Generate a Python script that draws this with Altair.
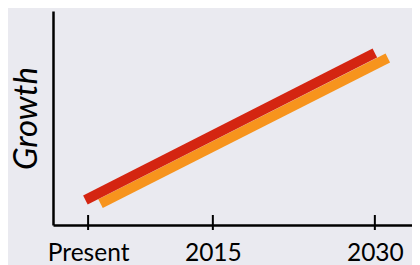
import altair as alt
import pandas as pd

# --- data ---
series_names = ["Orange", "Red"]
orange_x = [2004.6, 2031.2]
orange_y = [10.0, 78.0]
red_x = [2003.2, 2030.0]
red_y = [11.7, 80.4]

tick_values = [2003.45, 2015, 2030]
tick_labels = ["Present", "2015", "2030"]

line_colors = ["#f7941d", "#d42511"]

lines = pd.DataFrame({
    "series": [series_names[0]] * 2 + [series_names[1]] * 2,
    "x": orange_x + red_x,
    "y": orange_y + red_y,
})
ticks = pd.DataFrame({"x": tick_values, "label": tick_labels})

label_expr = " : ".join(
    f"datum.value == {v} ? '{l}'" for v, l in zip(tick_values, tick_labels)
) + " : ''"

x_scale = alt.Scale(domain=[2000.2, 2033.44], nice=False, zero=False)
y_scale = alt.Scale(domain=[0, 100], nice=False, zero=True)

x_axis = alt.Axis(
    values=tick_values, labelExpr=label_expr, ticks=False, grid=False,
    domain=True, domainColor="black", domainWidth=2.5, title=None,
    labelFont="Lato", labelFontSize=24.5, labelColor="black", labelPadding=16,
    labelFlush=False, labelOverlap=False,
)
y_axis = alt.Axis(
    ticks=False, labels=False, grid=False, domain=True, domainColor="black",
    domainWidth=2.5, title="Growth", titleFont="Lato", titleFontStyle="italic",
    titleFontWeight="normal", titleFontSize=33, titleColor="black", titlePadding=10,
)

line_layer = alt.Chart(lines).mark_line(strokeWidth=10, strokeCap="butt").encode(
    x=alt.X("x:Q", scale=x_scale, axis=x_axis),
    y=alt.Y("y:Q", scale=y_scale, axis=y_axis),
    color=alt.Color("series:N", scale=alt.Scale(domain=series_names, range=line_colors), legend=None),
    order=alt.Order("x:Q"),
)

tick_layer = alt.Chart(ticks).mark_rule(color="black", strokeWidth=2).encode(
    x=alt.X("x:Q", scale=x_scale),
    y=alt.value(204),
    y2=alt.value(219),
)

chart = alt.layer(line_layer, tick_layer).properties(
    width=359, height=214,
    autosize=alt.AutoSizeParams(type="none"),
    padding={"left": 45, "top": 3, "right": 0, "bottom": 40},
    background="#eaeaf0",
).configure_view(stroke=None)

chart.save("out.html", embed_options={"renderer": "svg", "actions": False})
